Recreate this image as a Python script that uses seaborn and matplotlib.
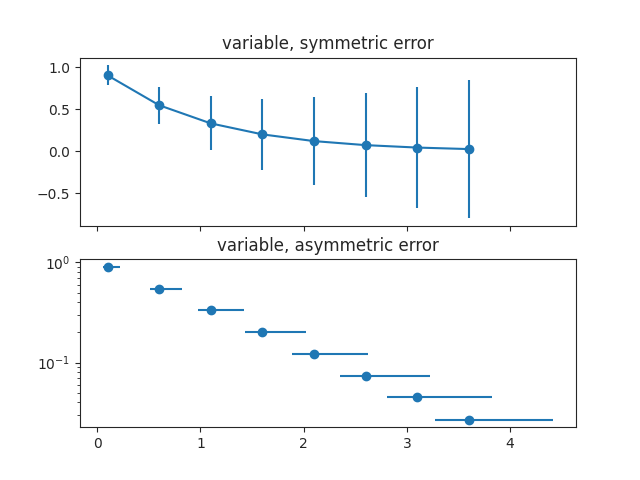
import numpy as np
import matplotlib
matplotlib.use("Agg")
import matplotlib.pyplot as plt
import seaborn as sns

# values
x = [0.1, 0.6, 1.1, 1.6, 2.1, 2.6, 3.1, 3.6]
y = [0.905, 0.549, 0.333, 0.202, 0.122, 0.074, 0.045, 0.027]
yerr = [0.12, 0.22, 0.32, 0.42, 0.52, 0.62, 0.72, 0.82]
xerr_lower = [0.048, 0.088, 0.128, 0.168, 0.208, 0.248, 0.288, 0.328]
xerr_upper = [0.12, 0.22, 0.32, 0.42, 0.52, 0.62, 0.72, 0.82]

sns.set_style("ticks")
plt.rcParams["font.family"] = ["DejaVu Sans"]
color = sns.color_palette("tab10")[0]

fig, (ax0, ax1) = plt.subplots(nrows=2, sharex=True, figsize=(6.4, 4.8), dpi=100)

ax0.errorbar(x, y, yerr=yerr, fmt="-o", color=color)
ax0.set_title("variable, symmetric error")

ax1.errorbar(x, y, xerr=[xerr_lower, xerr_upper], fmt="o", color=color)
ax1.set_title("variable, asymmetric error")
ax1.set_yscale("log")

plt.savefig("out.png", dpi=100)
